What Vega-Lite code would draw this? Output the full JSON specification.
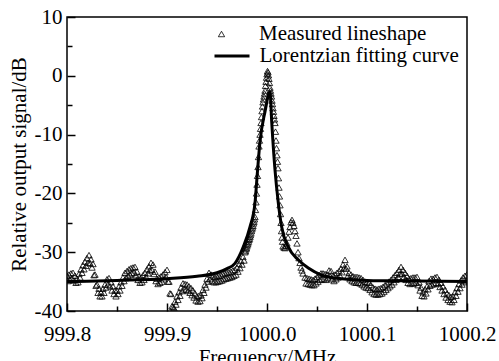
{
  "$schema": "https://vega.github.io/schema/vega-lite/v6.json",
  "width": 400,
  "height": 294,
  "autosize": "none",
  "padding": {"left": 67, "top": 17, "right": 32, "bottom": 50},
  "background": "white",
  "config": {
    "view": {"stroke": "black", "strokeWidth": 1.5},
    "font": "'Liberation Serif', 'Times New Roman', 'DejaVu Serif', serif",
    "axis": {"grid": false, "domain": false, "labelFontSize": 21, "titleFontSize": 21, "labelColor": "black", "titleColor": "black", "titleFontWeight": "normal", "tickColor": "black"},
    "legend": {"labelFont": "'Liberation Serif', 'Times New Roman', 'DejaVu Serif', serif", "labelFontSize": 21, "labelColor": "black", "labelLimit": 400}
  },
  "datasets": {
    "meas": [
      {"f":999.800,"v":-34.0},{"f":999.802,"v":-33.8},{"f":999.804,"v":-33.6},{"f":999.806,"v":-33.5},{"f":999.808,"v":-34.0},{"f":999.810,"v":-34.5},{"f":999.812,"v":-33.7},{"f":999.814,"v":-32.9},{"f":999.816,"v":-32.2},{"f":999.818,"v":-31.6},{"f":999.820,"v":-31.0},{"f":999.822,"v":-30.5},{"f":999.824,"v":-31.2},{"f":999.826,"v":-32.0},{"f":999.828,"v":-33.8},{"f":999.830,"v":-35.5},{"f":999.832,"v":-36.2},{"f":999.834,"v":-36.8},{"f":999.836,"v":-36.2},{"f":999.838,"v":-35.5},{"f":999.840,"v":-34.6},{"f":999.842,"v":-34.4},{"f":999.844,"v":-35.1},{"f":999.846,"v":-35.8},{"f":999.848,"v":-36.5},{"f":999.850,"v":-36.5},{"f":999.852,"v":-35.8},{"f":999.854,"v":-35.1},{"f":999.856,"v":-34.3},{"f":999.858,"v":-33.5},{"f":999.860,"v":-33.2},{"f":999.862,"v":-32.9},{"f":999.864,"v":-32.7},{"f":999.866,"v":-32.6},{"f":999.868,"v":-32.5},{"f":999.870,"v":-33.3},{"f":999.872,"v":-34.1},{"f":999.874,"v":-34.3},{"f":999.876,"v":-33.9},{"f":999.878,"v":-33.5},{"f":999.880,"v":-32.9},{"f":999.882,"v":-32.4},{"f":999.884,"v":-31.8},{"f":999.886,"v":-32.1},{"f":999.888,"v":-33.3},{"f":999.890,"v":-34.5},{"f":999.892,"v":-34.3},{"f":999.894,"v":-34.1},{"f":999.896,"v":-33.8},{"f":999.898,"v":-33.4},{"f":999.900,"v":-33.0},{"f":999.902,"v":-35.0},{"f":999.904,"v":-37.1},{"f":999.906,"v":-39.3},{"f":999.908,"v":-38.4},{"f":999.910,"v":-37.5},{"f":999.912,"v":-36.8},{"f":999.914,"v":-36.0},{"f":999.916,"v":-35.3},{"f":999.918,"v":-35.4},{"f":999.920,"v":-35.5},{"f":999.922,"v":-35.8},{"f":999.924,"v":-36.1},{"f":999.926,"v":-36.5},{"f":999.928,"v":-37.0},{"f":999.930,"v":-37.5},{"f":999.932,"v":-37.4},{"f":999.934,"v":-37.3},{"f":999.936,"v":-36.4},{"f":999.938,"v":-35.5},{"f":999.940,"v":-34.5},{"f":999.942,"v":-33.5},{"f":999.944,"v":-33.8},{"f":999.946,"v":-34.1},{"f":999.948,"v":-34.2},{"f":999.950,"v":-34.1},{"f":999.952,"v":-34.0},{"f":999.954,"v":-33.9},{"f":999.956,"v":-33.7},{"f":999.958,"v":-33.6},{"f":999.960,"v":-33.5},{"f":999.962,"v":-33.4},{"f":999.964,"v":-33.3},{"f":999.966,"v":-33.1},{"f":999.968,"v":-33.0},{"f":999.970,"v":-32.6},{"f":999.972,"v":-32.0},{"f":999.974,"v":-31.5},{"f":999.976,"v":-30.8},
      {"f":999.9780,"v":-30.0},{"f":999.9785,"v":-29.8},{"f":999.9790,"v":-29.5},{"f":999.9795,"v":-29.3},{"f":999.9800,"v":-29.0},{"f":999.9805,"v":-28.7},{"f":999.9810,"v":-28.5},{"f":999.9815,"v":-28.2},{"f":999.9820,"v":-27.9},{"f":999.9825,"v":-27.7},{"f":999.9830,"v":-27.4},{"f":999.9835,"v":-27.1},{"f":999.9840,"v":-26.8},{"f":999.9845,"v":-26.4},{"f":999.9850,"v":-26.1},{"f":999.9855,"v":-25.8},{"f":999.9860,"v":-25.5},{"f":999.9865,"v":-25.1},{"f":999.9870,"v":-24.8},{"f":999.9875,"v":-24.4},{"f":999.9880,"v":-24.0},{"f":999.9885,"v":-22.8},{"f":999.9890,"v":-21.5},{"f":999.9895,"v":-20.0},{"f":999.9900,"v":-18.5},{"f":999.9905,"v":-17.0},{"f":999.9910,"v":-15.5},{"f":999.9915,"v":-13.8},{"f":999.9920,"v":-12.0},{"f":999.9925,"v":-11.0},{"f":999.9930,"v":-10.0},{"f":999.9935,"v":-9.0},{"f":999.9940,"v":-8.0},{"f":999.9945,"v":-7.0},{"f":999.9950,"v":-6.0},{"f":999.9955,"v":-5.2},{"f":999.9960,"v":-4.5},{"f":999.9965,"v":-4.0},{"f":999.9970,"v":-3.5},{"f":999.9975,"v":-3.0},{"f":999.9980,"v":-2.5},{"f":999.9985,"v":-1.7},{"f":999.9990,"v":-1.0},{"f":999.9995,"v":-0.3},{"f":1000.0000,"v":0.3},{"f":1000.0005,"v":0.8},{"f":1000.0010,"v":0.6},{"f":1000.0015,"v":0.1},{"f":1000.0020,"v":-0.5},{"f":1000.0025,"v":-1.2},{"f":1000.0030,"v":-2.0},{"f":1000.0035,"v":-2.5},{"f":1000.0040,"v":-3.0},{"f":1000.0045,"v":-3.5},{"f":1000.0050,"v":-4.2},{"f":1000.0055,"v":-4.8},{"f":1000.0060,"v":-5.5},{"f":1000.0065,"v":-6.1},{"f":1000.0070,"v":-6.8},{"f":1000.0075,"v":-7.4},{"f":1000.0080,"v":-8.0},{"f":1000.0085,"v":-9.5},{"f":1000.0090,"v":-11.0},{"f":1000.0095,"v":-12.3},{"f":1000.0100,"v":-13.5},{"f":1000.0105,"v":-14.6},{"f":1000.0110,"v":-15.7},{"f":1000.0115,"v":-17.4},{"f":1000.0120,"v":-19.0},{"f":1000.0125,"v":-20.5},{"f":1000.0130,"v":-22.0},{"f":1000.0135,"v":-23.5},{"f":1000.0140,"v":-25.0},{"f":1000.0145,"v":-26.4},{"f":1000.0150,"v":-27.5},{"f":1000.0155,"v":-28.2},{"f":1000.0160,"v":-29.0},{"f":1000.0170,"v":-29.2},{"f":1000.0180,"v":-29.3},{"f":1000.0190,"v":-28.9},{"f":1000.0200,"v":-28.5},{"f":1000.0210,"v":-27.5},{"f":1000.0220,"v":-26.5},{"f":1000.0230,"v":-25.7},{"f":1000.0240,"v":-24.9},{"f":1000.0250,"v":-24.5},{"f":1000.0260,"v":-25.0},{"f":1000.0270,"v":-25.5},{"f":1000.0280,"v":-26.4},{"f":1000.0290,"v":-27.2},{"f":1000.0300,"v":-28.5},{"f":1000.0310,"v":-30.0},{"f":1000.0320,"v":-31.0},{"f":1000.0330,"v":-31.8},{"f":1000.0340,"v":-32.6},{"f":1000.0350,"v":-33.1},{"f":1000.0360,"v":-33.6},{"f":1000.0380,"v":-34.3},
      {"f":1000.040,"v":-34.4},{"f":1000.042,"v":-34.5},{"f":1000.044,"v":-34.6},{"f":1000.046,"v":-34.7},{"f":1000.048,"v":-34.5},{"f":1000.050,"v":-34.2},{"f":1000.052,"v":-33.9},{"f":1000.054,"v":-33.6},{"f":1000.056,"v":-33.6},{"f":1000.058,"v":-33.7},{"f":1000.060,"v":-33.8},{"f":1000.062,"v":-33.1},{"f":1000.064,"v":-33.2},{"f":1000.066,"v":-34.0},{"f":1000.068,"v":-33.8},{"f":1000.070,"v":-33.5},{"f":1000.072,"v":-33.2},{"f":1000.074,"v":-32.8},{"f":1000.076,"v":-32.1},{"f":1000.078,"v":-31.3},{"f":1000.080,"v":-32.4},{"f":1000.082,"v":-33.5},{"f":1000.084,"v":-33.8},{"f":1000.086,"v":-34.1},{"f":1000.088,"v":-34.2},{"f":1000.090,"v":-34.2},{"f":1000.092,"v":-34.3},{"f":1000.094,"v":-34.4},{"f":1000.096,"v":-34.7},{"f":1000.098,"v":-35.0},{"f":1000.100,"v":-35.1},{"f":1000.102,"v":-35.2},{"f":1000.104,"v":-35.6},{"f":1000.106,"v":-36.0},{"f":1000.108,"v":-36.2},{"f":1000.110,"v":-36.3},{"f":1000.112,"v":-36.2},{"f":1000.114,"v":-36.1},{"f":1000.116,"v":-35.9},{"f":1000.118,"v":-35.6},{"f":1000.120,"v":-35.3},{"f":1000.122,"v":-35.0},{"f":1000.124,"v":-34.7},{"f":1000.126,"v":-34.3},{"f":1000.128,"v":-33.9},{"f":1000.130,"v":-33.5},{"f":1000.132,"v":-33.0},{"f":1000.134,"v":-32.5},{"f":1000.136,"v":-33.0},{"f":1000.138,"v":-33.5},{"f":1000.140,"v":-34.0},{"f":1000.142,"v":-34.5},{"f":1000.144,"v":-34.4},{"f":1000.146,"v":-34.3},{"f":1000.148,"v":-34.3},{"f":1000.150,"v":-34.2},{"f":1000.152,"v":-35.1},{"f":1000.154,"v":-36.0},{"f":1000.156,"v":-36.8},{"f":1000.158,"v":-36.3},{"f":1000.160,"v":-35.8},{"f":1000.162,"v":-34.9},{"f":1000.164,"v":-34.5},{"f":1000.166,"v":-34.5},{"f":1000.168,"v":-34.3},{"f":1000.170,"v":-34.2},{"f":1000.172,"v":-34.7},{"f":1000.174,"v":-35.2},{"f":1000.176,"v":-35.8},{"f":1000.178,"v":-36.4},{"f":1000.180,"v":-37.0},{"f":1000.182,"v":-37.3},{"f":1000.184,"v":-37.6},{"f":1000.186,"v":-37.5},{"f":1000.188,"v":-36.8},{"f":1000.190,"v":-36.1},{"f":1000.192,"v":-35.4},{"f":1000.194,"v":-34.8},{"f":1000.196,"v":-34.3},{"f":1000.198,"v":-34.0},{"f":1000.200,"v":-33.8},
      {"f":999.801,"v":-34.9},{"f":999.803,"v":-34.7},{"f":999.805,"v":-34.5},{"f":999.807,"v":-34.8},{"f":999.809,"v":-35.2},{"f":999.811,"v":-35.1},{"f":999.813,"v":-34.3},{"f":999.815,"v":-33.5},{"f":999.817,"v":-32.9},{"f":999.819,"v":-32.3},{"f":999.821,"v":-31.8},{"f":999.823,"v":-31.9},{"f":999.825,"v":-32.6},{"f":999.827,"v":-33.9},{"f":999.829,"v":-35.7},{"f":999.831,"v":-36.9},{"f":999.833,"v":-37.5},{"f":999.835,"v":-37.5},{"f":999.837,"v":-36.9},{"f":999.839,"v":-36.0},{"f":999.841,"v":-35.5},{"f":999.843,"v":-35.8},{"f":999.845,"v":-36.5},{"f":999.847,"v":-37.1},{"f":999.849,"v":-37.5},{"f":999.851,"v":-37.1},{"f":999.853,"v":-36.5},{"f":999.855,"v":-35.7},{"f":999.857,"v":-34.9},{"f":999.859,"v":-34.4},{"f":999.861,"v":-34.0},{"f":999.863,"v":-33.8},{"f":999.865,"v":-33.6},{"f":999.867,"v":-33.5},{"f":999.869,"v":-33.9},{"f":999.871,"v":-34.7},{"f":999.873,"v":-35.2},{"f":999.875,"v":-35.1},{"f":999.877,"v":-34.7},{"f":999.879,"v":-34.2},{"f":999.881,"v":-33.6},{"f":999.883,"v":-33.1},{"f":999.885,"v":-33.0},{"f":999.887,"v":-33.7},{"f":999.889,"v":-34.9},{"f":999.891,"v":-35.4},{"f":999.893,"v":-35.2},{"f":999.895,"v":-35.0},{"f":999.897,"v":-34.6},{"f":999.899,"v":-34.2},{"f":999.901,"v":-35.0},{"f":999.903,"v":-37.0},{"f":999.905,"v":-39.2},{"f":999.907,"v":-39.5},{"f":999.909,"v":-38.9},{"f":999.911,"v":-38.1},{"f":999.913,"v":-37.4},{"f":999.915,"v":-36.6},{"f":999.917,"v":-36.3},{"f":999.919,"v":-36.4},{"f":999.921,"v":-36.6},{"f":999.923,"v":-36.9},{"f":999.925,"v":-37.3},{"f":999.927,"v":-37.7},{"f":999.929,"v":-38.2},{"f":999.931,"v":-38.4},{"f":999.933,"v":-38.3},{"f":999.935,"v":-37.8},{"f":999.937,"v":-36.9},{"f":999.939,"v":-36.0},{"f":999.941,"v":-35.0},{"f":999.943,"v":-34.6},{"f":999.945,"v":-34.9},{"f":999.947,"v":-35.1},{"f":999.949,"v":-35.1},{"f":999.951,"v":-35.0},{"f":999.953,"v":-34.9},{"f":999.955,"v":-34.8},{"f":999.957,"v":-34.6},{"f":999.959,"v":-34.5},{"f":999.961,"v":-34.4},{"f":999.963,"v":-34.3},{"f":999.965,"v":-34.2},{"f":999.967,"v":-34.0},{"f":999.969,"v":-33.8},{"f":999.971,"v":-33.3},{"f":999.973,"v":-32.7},{"f":999.975,"v":-32.1},{"f":999.977,"v":-31.4},
      {"f":1000.039,"v":-35.3},{"f":1000.041,"v":-35.4},{"f":1000.043,"v":-35.5},{"f":1000.045,"v":-35.6},{"f":1000.047,"v":-35.6},{"f":1000.049,"v":-35.3},{"f":1000.051,"v":-35.0},{"f":1000.053,"v":-34.7},{"f":1000.055,"v":-34.6},{"f":1000.057,"v":-34.6},{"f":1000.059,"v":-34.7},{"f":1000.061,"v":-34.4},{"f":1000.063,"v":-34.1},{"f":1000.065,"v":-34.6},{"f":1000.067,"v":-34.9},{"f":1000.069,"v":-34.6},{"f":1000.071,"v":-34.3},{"f":1000.073,"v":-34.0},{"f":1000.075,"v":-33.4},{"f":1000.077,"v":-32.7},{"f":1000.079,"v":-32.8},{"f":1000.081,"v":-34.0},{"f":1000.083,"v":-34.6},{"f":1000.085,"v":-34.9},{"f":1000.087,"v":-35.1},{"f":1000.089,"v":-35.2},{"f":1000.091,"v":-35.2},{"f":1000.093,"v":-35.3},{"f":1000.095,"v":-35.5},{"f":1000.097,"v":-35.8},{"f":1000.099,"v":-36.0},{"f":1000.101,"v":-36.1},{"f":1000.103,"v":-36.4},{"f":1000.105,"v":-36.8},{"f":1000.107,"v":-37.1},{"f":1000.109,"v":-37.2},{"f":1000.111,"v":-37.2},{"f":1000.113,"v":-37.1},{"f":1000.115,"v":-37.0},{"f":1000.117,"v":-36.7},{"f":1000.119,"v":-36.4},{"f":1000.121,"v":-36.1},{"f":1000.123,"v":-35.8},{"f":1000.125,"v":-35.5},{"f":1000.127,"v":-35.1},{"f":1000.129,"v":-34.7},{"f":1000.131,"v":-34.2},{"f":1000.133,"v":-33.7},{"f":1000.135,"v":-33.7},{"f":1000.137,"v":-34.2},{"f":1000.139,"v":-34.7},{"f":1000.141,"v":-35.2},{"f":1000.143,"v":-35.4},{"f":1000.145,"v":-35.3},{"f":1000.147,"v":-35.3},{"f":1000.149,"v":-35.2},{"f":1000.151,"v":-35.6},{"f":1000.153,"v":-36.5},{"f":1000.155,"v":-37.4},{"f":1000.157,"v":-37.5},{"f":1000.159,"v":-37.0},{"f":1000.161,"v":-36.3},{"f":1000.163,"v":-35.7},{"f":1000.165,"v":-35.5},{"f":1000.167,"v":-35.4},{"f":1000.169,"v":-35.2},{"f":1000.171,"v":-35.4},{"f":1000.173,"v":-35.9},{"f":1000.175,"v":-36.5},{"f":1000.177,"v":-37.1},{"f":1000.179,"v":-37.7},{"f":1000.181,"v":-38.1},{"f":1000.183,"v":-38.4},{"f":1000.185,"v":-38.5},{"f":1000.187,"v":-38.1},{"f":1000.189,"v":-37.4},{"f":1000.191,"v":-36.7},{"f":1000.193,"v":-36.1},{"f":1000.195,"v":-35.5},{"f":1000.197,"v":-35.1},{"f":1000.199,"v":-34.9}
    ],
    "fit": [
      {"f":999.800,"v":-35.0},{"f":999.850,"v":-34.8},{"f":999.900,"v":-34.5},{"f":999.930,"v":-34.1},{"f":999.950,"v":-33.5},{"f":999.960,"v":-32.8},{"f":999.968,"v":-31.9},{"f":999.9763,"v":-29.1},{"f":999.983,"v":-25.7},{"f":999.988,"v":-21.6},{"f":999.9905,"v":-16.2},{"f":999.993,"v":-11.2},{"f":999.998,"v":-6.1},{"f":1000.003,"v":-2.7},{"f":1000.0047,"v":-7.8},{"f":1000.008,"v":-16.0},{"f":1000.0113,"v":-21.6},{"f":1000.0147,"v":-25.7},{"f":1000.0213,"v":-29.1},{"f":1000.0313,"v":-31.3},{"f":1000.0413,"v":-32.7},{"f":1000.0547,"v":-33.9},{"f":1000.068,"v":-34.4},{"f":1000.100,"v":-34.8},{"f":1000.150,"v":-34.9},{"f":1000.200,"v":-35.0}
    ]
  },
  "resolve": {"axis": {"x": "independent", "y": "independent"}},
  "layer": [
    {
      "data": {"name": "meas"},
      "mark": {"type": "point", "filled": false, "color": "black", "strokeWidth": 0.8, "size": 40, "opacity": 1, "clip": true},
      "encoding": {
        "x": {"field": "f", "type": "quantitative", "scale": {"domain": [999.8, 1000.2], "nice": false, "zero": false},
              "axis": {"orient": "bottom", "title": "Frequency/MHz", "values": [999.8, 999.9, 1000.0, 1000.1, 1000.2], "labelExpr": "format(datum.value, '.1f')", "tickSize": -8, "tickWidth": 1.5, "labelPadding": 20.5, "titlePadding": 1.5, "labelFlush": false, "labelOverlap": false, "labelFont": "'Liberation Serif', 'Times New Roman', 'DejaVu Serif', serif", "titleFont": "'Liberation Serif', 'Times New Roman', 'DejaVu Serif', serif"}},
        "y": {"field": "v", "type": "quantitative", "scale": {"domain": [-40, 10], "nice": false, "zero": false},
              "axis": {"orient": "left", "title": "Relative output signal/dB", "values": [-40, -30, -20, -10, 0, 10], "labelExpr": "'' + datum.value", "tickSize": -8, "tickWidth": 1.5, "labelPadding": 13, "titlePadding": 5, "labelFlush": false, "labelOverlap": false, "labelFont": "'Liberation Serif', 'Times New Roman', 'DejaVu Serif', serif", "titleFont": "'Liberation Serif', 'Times New Roman', 'DejaVu Serif', serif"}},
        "shape": {"datum": "Measured lineshape", "scale": {"range": ["triangle-up"]},
                  "legend": {"title": null, "orient": "none", "legendX": 144, "legendY": 6.5, "padding": 0, "symbolSize": 40, "symbolStrokeWidth": 0.8, "symbolStrokeColor": "black", "labelOffset": 27}}
      }
    },
    {
      "data": {"name": "fit"},
      "mark": {"type": "line", "color": "black", "strokeWidth": 3, "interpolate": "monotone", "clip": true},
      "encoding": {
        "x": {"field": "f", "type": "quantitative", "scale": {"domain": [999.8, 1000.2], "nice": false, "zero": false},
              "axis": {"orient": "bottom", "title": null, "labels": false, "values": [999.85, 999.95, 1000.05, 1000.15], "tickSize": -5, "tickWidth": 1.5}},
        "y": {"field": "v", "type": "quantitative", "scale": {"domain": [-40, 10], "nice": false, "zero": false},
              "axis": {"orient": "left", "title": null, "labels": false, "values": [-35, -25, -15, -5, 5], "tickSize": -5, "tickWidth": 1.5}},
        "stroke": {"datum": "Lorentzian fitting curve", "scale": {"range": ["black"]},
                   "legend": {"title": null, "orient": "none", "legendX": 146, "legendY": 20, "padding": 0, "symbolSize": 1225, "symbolStrokeWidth": 3, "labelOffset": 8.5}}
      }
    }
  ]
}
